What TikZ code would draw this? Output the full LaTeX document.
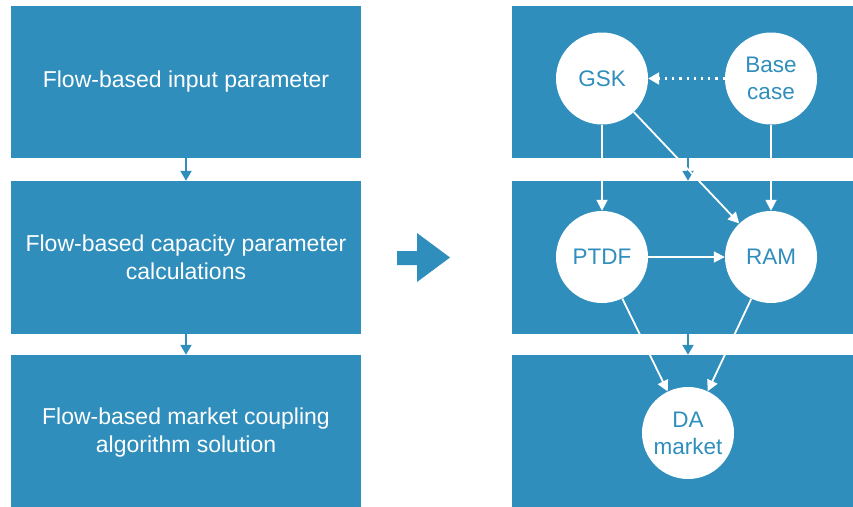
\documentclass[tikz,border=0pt]{standalone}
\usepackage{fontspec}
\setmainfont{Liberation Sans}
\usetikzlibrary{arrows.meta}
\definecolor{panel}{HTML}{2F8EBC}
\tikzset{
  panelbox/.style={fill=panel, draw=none, inner sep=0pt, text=white,
    align=center, font=\fontsize{23}{28}\selectfont},
  bubble/.style={circle, fill=white, draw=none, minimum size=92pt, inner sep=0pt,
    text=panel, align=center, font=\fontsize{22.5}{27}\selectfont},
  flowlink/.style={draw=white, line width=1.8pt,
    -{Triangle[length=11pt,width=11pt]}},
  hintlink/.style={draw=white, line width=2.2pt, dash pattern=on 2.2pt off 5pt,
    -{Triangle[length=11pt,width=12pt]}},
  steplink/.style={draw=panel, line width=2pt,
    -{Triangle[length=10pt,width=11pt]}},
}
\begin{document}
\begin{tikzpicture}[x=1pt, y=-1pt]
  \useasboundingbox (0,0) rectangle (853,506);

  % process stages, left column
  \node[panelbox, minimum width=350pt, minimum height=152pt] (s1) at (186,82)
    {Flow-based input parameter};
  \node[panelbox, minimum width=350pt, minimum height=153pt] (s2) at (186,257.5)
    {Flow-based capacity parameter\\calculations};
  \node[panelbox, minimum width=350pt, minimum height=152pt] (s3) at (186,431)
    {};
  \node[text=white, align=center, font=\fontsize{23}{28}\selectfont] (s3t) at (186,433)
    {Flow-based market coupling\\algorithm solution};

  \draw[steplink] (s1.south) -- (s2.north);
  \draw[steplink] (s2.south) -- (s3.north);

  % big transition arrow
  \fill[panel] (397,251) -- (417,251) -- (417,233) -- (450,257.5)
    -- (417,282) -- (417,265) -- (397,265) -- cycle;

  % detailed stages, right column
  \node[panelbox, minimum width=342pt, minimum height=152pt] (r1) at (683,82) {};
  \node[panelbox, minimum width=342pt, minimum height=153pt] (r2) at (683,257.5) {};
  \node[panelbox, minimum width=342pt, minimum height=152pt] (r3) at (683,431) {};

  \node[bubble] (gsk)  at (602,78.5) {GSK};
  \node[bubble] (base) at (771,78.5) {Base\\case};
  \node[bubble] (ptdf) at (602,257) {PTDF};
  \node[bubble] (ram)  at (771,257) {RAM};
  \node[bubble] (da)   at (688,433) {DA\\market};

  \draw[steplink] (r1.south -| da.center) -- (r2.north -| da.center);
  \draw[steplink] (r2.south -| da.center) -- (r3.north -| da.center);

  \draw[hintlink] (base.west) -- (gsk.east);
  \draw[flowlink] (gsk) -- (ptdf);
  \draw[flowlink] (base) -- (ram);
  \draw[flowlink] (gsk) -- (ram);
  \draw[flowlink] (ptdf) -- (ram);
  \draw[flowlink] (ptdf) -- (da);
  \draw[flowlink] (ram) -- (da);
\end{tikzpicture}
\end{document}
